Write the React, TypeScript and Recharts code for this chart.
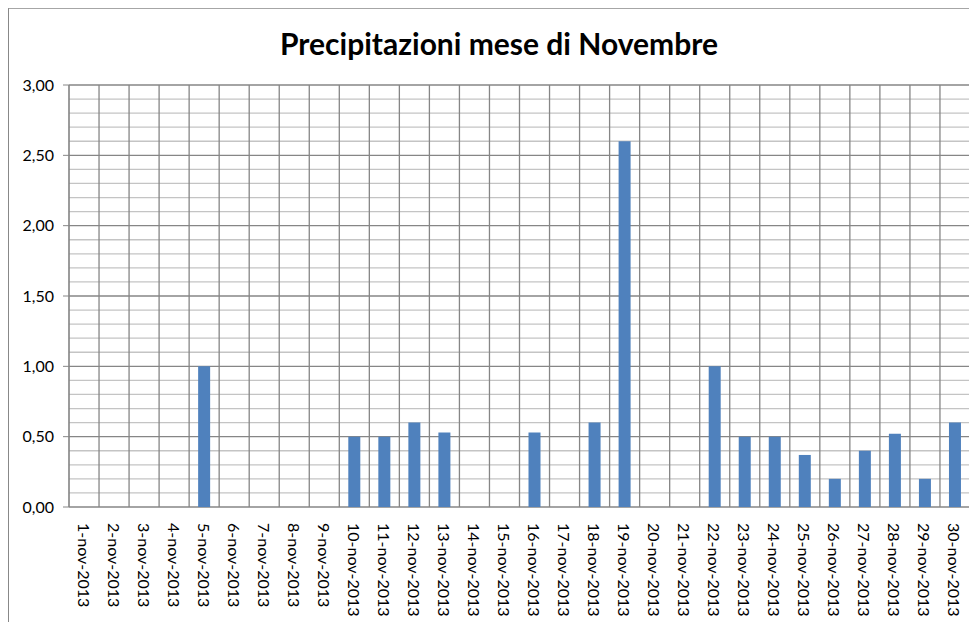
import React from "react";
import { BarChart, Bar, XAxis, YAxis, CartesianGrid, ReferenceLine } from "recharts";

const days: string[] = Array.from({ length: 30 }, (_, i) => `${i + 1}-nov-2013`);
const rain: number[] = [
  0, 0, 0, 0, 1.0, 0, 0, 0, 0, 0.5,
  0.5, 0.6, 0.53, 0, 0, 0.53, 0, 0.6, 2.6, 0,
  0, 1.0, 0.5, 0.5, 0.37, 0.2, 0.4, 0.52, 0.2, 0.6,
];
const yMajorTicks: number[] = [0, 0.5, 1, 1.5, 2, 2.5, 3];
const yMinorTicks: number[] = [
  0.1, 0.2, 0.3, 0.4, 0.6, 0.7, 0.8, 0.9, 1.1, 1.2, 1.3, 1.4, 1.6, 1.7, 1.8, 1.9,
  2.1, 2.2, 2.3, 2.4, 2.6, 2.7, 2.8, 2.9,
];
const boundaryTicks: number[] = Array.from({ length: 31 }, (_, i) => i);

const data = days.map((d, i) => ({ day: d, pos: i + 0.5, value: rain[i] }));

const FONT = "Lato, 'Open Sans', sans-serif";

const fmt = (v: number) => v.toFixed(2).replace(".", ",");

const DayTick = (props: any) => {
  const { x, y, payload } = props;
  return (
    <text
      transform={`translate(${x},${y + 8}) rotate(90)`}
      textAnchor="start"
      dominantBaseline="central"
      fontSize={16}
      fontFamily={FONT}
      fill="#000"
    >
      {payload.value}
    </text>
  );
};

export default function App() {
  return (
    <div
      style={{
        position: "relative",
        width: 969,
        height: 615,
        marginTop: -1,
        borderTop: "2px solid #a6a6a6",
        borderLeft: "1px solid #888",
        boxSizing: "border-box",
        background: "#fff",
      }}
    >
      <div
        style={{
          position: "absolute",
          left: 0,
          width: 980,
          top: 16,
          textAlign: "center",
          fontFamily: FONT,
          fontWeight: 700,
          fontSize: 30,
          color: "#000",
        }}
      >
        Precipitazioni mese di Novembre
      </div>
      <BarChart
        width={968}
        height={613}
        data={data}
        margin={{ top: 76, right: 7, bottom: 10, left: 0 }}
      >
        <CartesianGrid
          yAxisId="y"
          xAxisId="grid"
          vertical={false}
          horizontalValues={yMinorTicks}
          stroke="#c4c4c4"
          strokeWidth={1.3}
        />
        <CartesianGrid
          yAxisId="y"
          xAxisId="grid"
          vertical={false}
          horizontalValues={yMajorTicks}
          stroke="#868686"
          strokeWidth={1.3}
        />
        {boundaryTicks.map((t) => (
          <ReferenceLine
            key={t}
            xAxisId="grid"
            yAxisId="y"
            x={t}
            stroke="#868686"
            strokeWidth={1.3}
          />
        ))}
        <XAxis
          xAxisId="grid"
          type="number"
          dataKey="pos"
          domain={[0, 30]}
          ticks={boundaryTicks}
          interval={0}
          tick={false}
          tickLine={{ stroke: "#868686" }}
          tickSize={6}
          axisLine={{ stroke: "#868686" }}
          height={0}
          allowDataOverflow
        />
        <XAxis
          xAxisId="cat"
          dataKey="day"
          interval={0}
          tick={<DayTick />}
          tickLine={false}
          axisLine={false}
          height={105}
        />
        <YAxis
          yAxisId="y"
          domain={[0, 3]}
          ticks={yMajorTicks}
          tickFormatter={fmt}
          tick={{ fontSize: 16, fontFamily: FONT, fill: "#000", dx: -7 }}
          tickLine={{ stroke: "#868686" }}
          tickSize={6}
          axisLine={{ stroke: "#868686" }}
          width={60}
          interval={0}
        />
        <Bar
          xAxisId="cat"
          yAxisId="y"
          dataKey="value"
          fill="#4f81bd"
          barSize={12}
          isAnimationActive={false}
        />
      </BarChart>
    </div>
  );
}
